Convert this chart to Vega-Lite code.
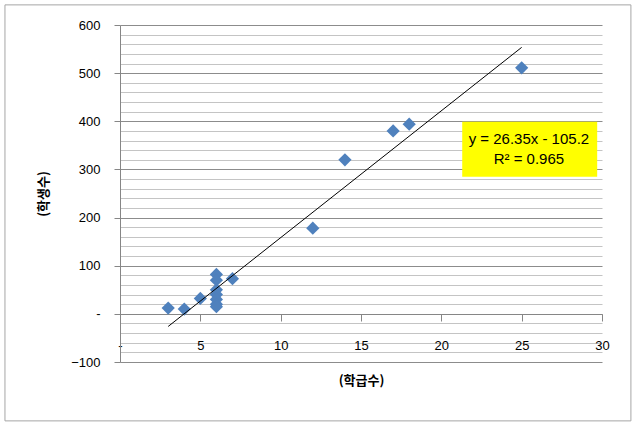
{
  "$schema": "https://vega.github.io/schema/vega-lite/v6.json",
  "width": 482,
  "height": 337,
  "autosize": {"type": "none"},
  "padding": {"left": 120, "top": 25, "right": 30, "bottom": 61},
  "background": "white",
  "config": {"view": {"stroke": null}},
  "datasets": {
    "points": [
      {"classes": 3, "students": 12},
      {"classes": 4, "students": 10},
      {"classes": 5, "students": 32},
      {"classes": 6, "students": 82},
      {"classes": 6, "students": 70},
      {"classes": 6, "students": 50},
      {"classes": 6, "students": 40},
      {"classes": 6, "students": 30},
      {"classes": 6, "students": 20},
      {"classes": 6, "students": 15},
      {"classes": 7, "students": 73},
      {"classes": 12, "students": 178},
      {"classes": 14, "students": 320},
      {"classes": 17, "students": 380},
      {"classes": 18, "students": 394},
      {"classes": 25, "students": 511}
    ],
    "trend": [
      {"classes": 3, "students": -26.15},
      {"classes": 25, "students": 553.55}
    ],
    "label": [
      {"line": "y = 26.35x - 105.2", "lx": 25.45, "ly": 364},
      {"line": "R² = 0.965", "lx": 25.45, "ly": 322}
    ],
    "one": [{"k": 1}]
  },
  "resolve": {"axis": {"x": "independent", "y": "independent"}},
  "layer": [
    {
      "data": {"name": "points"},
      "mark": {"type": "point", "shape": "diamond", "filled": true, "size": 175, "color": "#4F81BD", "opacity": 1},
      "encoding": {
        "x": {"field": "classes", "type": "quantitative", "scale": {"domain": [0, 30], "nice": false, "zero": false},
          "axis": {"orient": "top", "grid": false, "labels": false, "ticks": false, "domain": false, "title": null}},
        "y": {"field": "students", "type": "quantitative", "scale": {"domain": [-100, 600], "nice": false, "zero": false},
          "axis": {"orient": "right", "values": [-80, -60, -40, -20, 20, 40, 60, 80, 120, 140, 160, 180, 220, 240, 260, 280, 320, 340, 360, 380, 420, 440, 460, 480, 520, 540, 560, 580],
            "grid": true, "gridColor": "#c4c4c4", "gridWidth": 1, "labels": false, "ticks": false, "domain": false, "title": null}}
      }
    },
    {
      "data": {"name": "trend"},
      "mark": {"type": "line", "color": "#000000", "strokeWidth": 1},
      "encoding": {
        "x": {"field": "classes", "type": "quantitative", "scale": {"domain": [0, 30], "nice": false, "zero": false},
          "axis": {"orient": "bottom", "offset": -48, "values": [0, 5, 10, 15, 20, 25, 30], "grid": false,
            "domain": true, "domainColor": "#868686", "ticks": true, "tickColor": "#868686", "tickSize": 7,
            "labelExpr": "datum.value == 0 ? '-' : datum.label", "labelFont": "Liberation Sans", "labelFontSize": 13, "labelColor": "#000000",
            "labelPadding": 18, "labelFlush": false,
            "title": "(학급수)", "titleFont": "Noto Sans CJK KR", "titleFontSize": 13, "titleFontWeight": "bold", "titleColor": "#000000", "titlePadding": 22}},
        "y": {"field": "students", "type": "quantitative", "scale": {"domain": [-100, 600], "nice": false, "zero": false},
          "axis": {"orient": "left", "values": [-100, 0, 100, 200, 300, 400, 500, 600], "grid": true, "gridColor": "#8c8c8c", "gridWidth": 1,
            "domain": true, "domainColor": "#868686", "ticks": true, "tickColor": "#868686", "tickSize": 6,
            "labelExpr": "datum.value == 0 ? '-' : datum.label", "labelFont": "Liberation Sans", "labelFontSize": 13, "labelColor": "#000000",
            "labelPadding": 14, "labelFlush": false,
            "title": "(학생수)", "titleFont": "Noto Sans CJK KR", "titleFontSize": 13, "titleFontWeight": "bold", "titleColor": "#000000", "titlePadding": 20}}
      }
    },
    {
      "data": {"name": "one"},
      "mark": {"type": "rect", "fill": "#FFFF00"},
      "encoding": {
        "x": {"datum": 21.3, "type": "quantitative", "scale": {"domain": [0, 30], "nice": false, "zero": false}, "axis": null},
        "x2": {"datum": 29.7},
        "y": {"datum": 399, "type": "quantitative", "scale": {"domain": [-100, 600], "nice": false, "zero": false}, "axis": null},
        "y2": {"datum": 285}
      }
    },
    {
      "data": {"name": "label"},
      "mark": {"type": "text", "font": "Liberation Sans", "fontSize": 15, "color": "#000000", "align": "center", "baseline": "middle"},
      "encoding": {
        "x": {"field": "lx", "type": "quantitative", "scale": {"domain": [0, 30], "nice": false, "zero": false}, "axis": null},
        "y": {"field": "ly", "type": "quantitative", "scale": {"domain": [-100, 600], "nice": false, "zero": false}, "axis": null},
        "text": {"field": "line"}
      }
    },
    {
      "data": {"name": "one"},
      "mark": {"type": "rect", "fill": "transparent", "fillOpacity": 0, "stroke": "#a6a6a6", "strokeWidth": 1},
      "encoding": {
        "x": {"datum": -7.16, "type": "quantitative", "scale": {"domain": [0, 30], "nice": false, "zero": false}, "axis": null},
        "x2": {"datum": 31.8},
        "y": {"datum": 641.8, "type": "quantitative", "scale": {"domain": [-100, 600], "nice": false, "zero": false}, "axis": null},
        "y2": {"datum": -222.3}
      }
    }
  ]
}
